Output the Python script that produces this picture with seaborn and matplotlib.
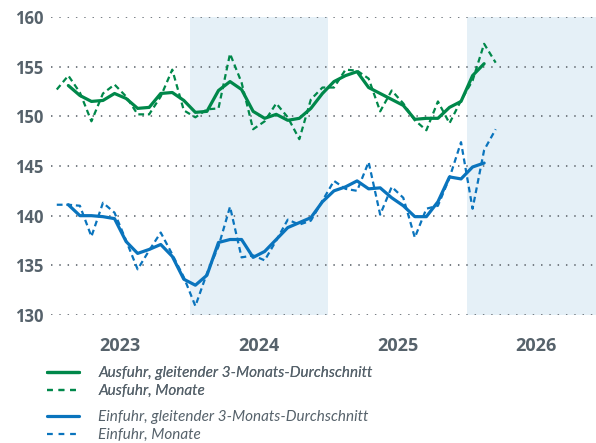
"""Aussenhandel: Ausfuhr und Einfuhr, Monatswerte und gleitender 3-Monats-Durchschnitt."""

import matplotlib

matplotlib.use("Agg")

import matplotlib.pyplot as plt
import numpy as np
import pandas as pd
import seaborn as sns
from matplotlib.lines import Line2D


# Monatswerte ab Januar 2023 bis Maerz 2026
export_monthly = [
    152.7, 154.1, 152.4, 149.5, 152.3, 153.2, 152.0, 150.2, 150.2, 152.0, 154.7, 150.6,
    149.9, 150.7, 150.8, 156.3, 153.4, 148.7, 149.5, 151.3, 149.9, 147.7, 151.7, 152.9,
    152.9, 154.7, 154.6, 153.8, 150.5, 152.6, 151.3, 149.6, 148.6, 151.5, 149.3, 151.6,
    153.6, 157.3, 155.4,
]
import_monthly = [
    141.1, 141.1, 141.0, 137.9, 141.3, 140.3, 137.5, 134.6, 136.5, 138.3, 136.1, 133.8,
    130.9, 134.2, 136.9, 140.9, 135.8, 136.0, 135.5, 137.5, 139.6, 139.1, 139.5, 141.5,
    143.5, 142.7, 142.5, 145.4, 140.1, 142.9, 141.8, 137.8, 140.7, 141.0, 143.8, 147.4,
    140.7, 146.6, 148.7,
]
# gleitender Durchschnitt, Februar 2023 bis Februar 2026
export_avg = [
    153.1, 152.1, 151.5, 151.6, 152.3, 151.8, 150.8, 150.9, 152.3, 152.4, 151.6,
    150.4, 150.5, 152.6, 153.5, 152.7, 150.5, 149.8, 150.2, 149.6, 149.8, 150.8, 152.3,
    153.5, 154.1, 154.5, 152.9, 152.3, 151.7, 151.1, 149.7, 149.8, 149.8, 150.9, 151.5,
    154.1, 155.3,
]
import_avg = [
    141.1, 140.0, 140.0, 139.9, 139.7, 137.4, 136.2, 136.6, 137.1, 135.9, 133.6,
    133.0, 134.0, 137.3, 137.6, 137.6, 135.8, 136.4, 137.6, 138.8, 139.3, 139.8, 141.4,
    142.5, 142.9, 143.5, 142.7, 142.8, 141.8, 141.0, 139.9, 139.9, 141.4, 143.9, 143.7,
    144.9, 145.3,
]
years = ["2023", "2024", "2025", "2026"]
shaded_years = ["2024", "2026"]
y_ticks = [130, 135, 140, 145, 150, 155, 160]
labels = [
    "Ausfuhr, gleitender 3-Monats-Durchschnitt",
    "Ausfuhr, Monate",
    "Einfuhr, gleitender 3-Monats-Durchschnitt",
    "Einfuhr, Monate",
]

GREEN = "#00884a"
BLUE = "#0a74bd"
SHADE = "#e5f0f7"
GRID = "#6c737a"
TEXT = "#56626b"
DASHES = (2.6, 1.7)


def build_frame() -> pd.DataFrame:
    month_x = np.arange(len(export_monthly)) + 0.5
    avg_x = np.arange(1, len(export_avg) + 1) + 0.5
    parts = [
        pd.DataFrame({"x": avg_x, "wert": export_avg, "reihe": labels[0]}),
        pd.DataFrame({"x": month_x, "wert": export_monthly, "reihe": labels[1]}),
        pd.DataFrame({"x": avg_x, "wert": import_avg, "reihe": labels[2]}),
        pd.DataFrame({"x": month_x, "wert": import_monthly, "reihe": labels[3]}),
    ]
    return pd.concat(parts, ignore_index=True)


def main() -> None:
    sns.set_theme(style="white")
    plt.rcParams["font.family"] = ["Open Sans", "DejaVu Sans"]

    df = build_frame()
    fig = plt.figure(figsize=(5.96, 4.43), dpi=100)
    ax = fig.add_axes([51 / 596, 1 - 315 / 443, 545 / 596, 298 / 443])

    for year in shaded_years:
        start = years.index(year) * 12
        ax.axvspan(start, start + 12, color=SHADE, lw=0, zorder=0)

    styles = {
        labels[0]: (GREEN, "-", 2.3),
        labels[1]: (GREEN, "--", 1.6),
        labels[2]: (BLUE, "-", 2.3),
        labels[3]: (BLUE, "--", 1.6),
    }
    for name, (color, ls, lw) in styles.items():
        part = df[df["reihe"] == name]
        line_kws = {"dashes": DASHES} if ls == "--" else {}
        sns.lineplot(data=part, x="x", y="wert", color=color, lw=lw, ax=ax,
                     zorder=3 if ls == "-" else 2, **line_kws)

    ax.set_xlim(0, 545 / 11.55)
    ax.set_ylim(130, 160)
    ax.set_yticks(y_ticks)
    ax.set_yticklabels([str(v) for v in y_ticks], fontsize=12, fontweight="bold", color=TEXT)
    ax.set_xticks([i * 12 + 6 for i in range(len(years))])
    ax.set_xticklabels(years, fontsize=13, fontweight="bold", color=TEXT)
    ax.tick_params(axis="y", length=0, pad=5.5)
    ax.tick_params(axis="x", length=0, pad=16)
    ax.grid(axis="y", color=GRID, lw=1.3, linestyle=(0, (0.8, 3.8)))
    ax.grid(axis="x", visible=False)
    ax.set_axisbelow(True)
    for spine in ax.spines.values():
        spine.set_visible(False)
    ax.set_xlabel("")
    ax.set_ylabel("")
    if ax.get_legend():
        ax.get_legend().remove()

    legend_kws = dict(
        loc="upper left", frameon=False, borderpad=0, borderaxespad=0,
        handlelength=2.1, handletextpad=1.25, labelspacing=0.27,
        prop={"family": "Lato", "style": "italic", "size": 11},
        labelcolor=TEXT,
    )
    green_handles = [
        Line2D([], [], color=GREEN, lw=2.3),
        Line2D([], [], color=GREEN, lw=1.6, dashes=(2.6, 2.6)),
    ]
    blue_handles = [
        Line2D([], [], color=BLUE, lw=2.3),
        Line2D([], [], color=BLUE, lw=1.6, dashes=(2.6, 2.6)),
    ]
    leg1 = fig.legend(green_handles, labels[:2], bbox_to_anchor=(47 / 596, 1 - 366 / 443), **legend_kws)
    fig.add_artist(leg1)
    fig.legend(blue_handles, labels[2:], bbox_to_anchor=(47 / 596, 1 - 410 / 443), **legend_kws)

    fig.savefig("out.png", dpi=100)
    plt.close(fig)


if __name__ == "__main__":
    main()
